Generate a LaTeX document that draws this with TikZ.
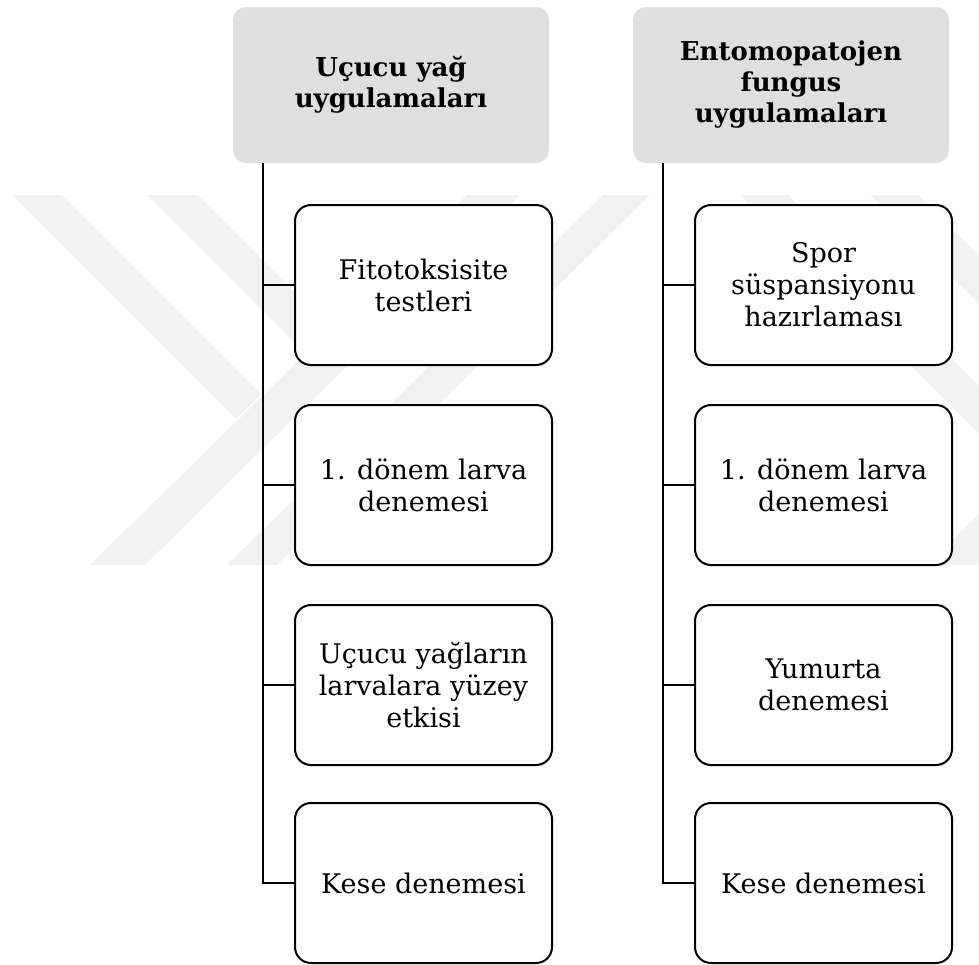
\documentclass[tikz,border=0pt]{standalone}
\usepackage{fontspec}
\setmainfont{DejaVu Serif}
\usetikzlibrary{positioning}
\definecolor{headgray}{HTML}{DFDFDF}
\definecolor{wmgray}{HTML}{F1F1F1}

\begin{document}
\begin{tikzpicture}[x=1pt, y=-1pt,
  head/.style={fill=headgray, rounded corners=13pt, inner sep=0pt,
    minimum width=316pt, minimum height=156pt, align=center,
    font=\fontsize{26}{31}\selectfont\bfseries},
  leaf/.style={draw=black, fill=white, line width=2pt, rounded corners=16pt,
    inner sep=0pt, minimum width=257pt, minimum height=160pt, align=center,
    font=\fontsize{27}{32}\selectfont},
  stem/.style={line width=2.2pt},
  wmark/.style={fill=wmgray}
]
  \useasboundingbox (0,0) rectangle (979,964);

  % faint watermark stripes
  \fill[wmark] (90,565) -- (145,565) -- (520,195) -- (467,195) -- cycle;
  \fill[wmark] (12,195) -- (62,195) -- (261,394) -- (236,419) -- cycle;
  \fill[wmark] (147,195) -- (198,195) -- (329,326) -- (303.5,351.5) -- cycle;
  \fill[wmark] (227,565) -- (277,565) -- (650,195) -- (603,195) -- cycle;
  \fill[wmark] (740,195) -- (788,195) -- (979,386) -- (979,434) -- cycle;
  \fill[wmark] (870,195) -- (918,195) -- (979,256) -- (979,304) -- cycle;
  \fill[wmark] (927,565) -- (979,565) -- (979,513) -- cycle;

  % column heads
  \node[head] (yag)    at (391,85) {Uçucu yağ\\uygulamaları};
  \node[head] (fungus) at (791,85) {Entomopatojen\\fungus\\uygulamaları};

  % essential oil steps
  \node[leaf] (yag1) at (423.5,285) {Fitotoksisite\\testleri};
  \node[leaf] (yag2) at (423.5,485) {1. dönem larva\\denemesi};
  \node[leaf] (yag3) at (423.5,685) {Uçucu yağların\\larvalara yüzey\\etkisi};
  \node[leaf] (yag4) at (423.5,883) {Kese denemesi};

  % fungus steps
  \node[leaf] (fun1) at (823.5,285) {Spor\\süspansiyonu\\hazırlaması};
  \node[leaf] (fun2) at (823.5,485) {1. dönem larva\\denemesi};
  \node[leaf] (fun3) at (823.5,685) {Yumurta\\denemesi};
  \node[leaf] (fun4) at (823.5,883) {Kese denemesi};

  % stems
  \coordinate (yagstem) at ([xshift=30pt]yag.south west);
  \coordinate (funstem) at ([xshift=30pt]fungus.south west);
  \draw[stem] (yagstem) |- (yag4.west);
  \draw[stem] (yag1.west) -- (yag1.west -| yagstem);
  \draw[stem] (yag2.west) -- (yag2.west -| yagstem);
  \draw[stem] (yag3.west) -- (yag3.west -| yagstem);
  \draw[stem] (funstem) |- (fun4.west);
  \draw[stem] (fun1.west) -- (fun1.west -| funstem);
  \draw[stem] (fun2.west) -- (fun2.west -| funstem);
  \draw[stem] (fun3.west) -- (fun3.west -| funstem);
\end{tikzpicture}
\end{document}
